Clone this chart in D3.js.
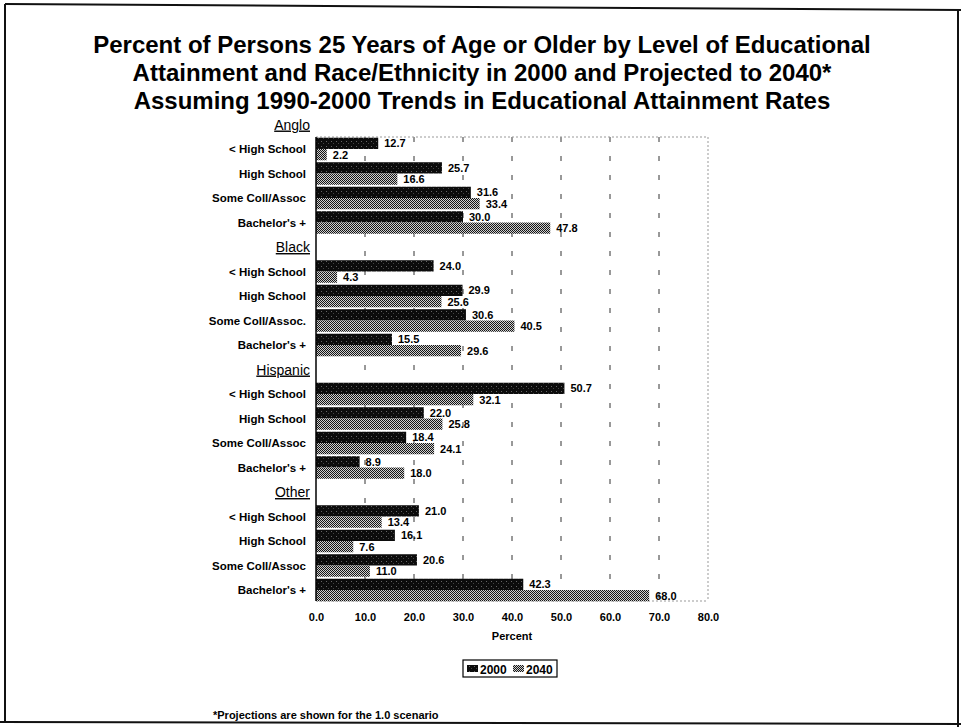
<!DOCTYPE html>
<html><head><meta charset="utf-8">
<script src="https://cdn.jsdelivr.net/npm/d3@7"></script>
<style>
body{margin:0;background:#fff;}
svg{display:block;font-family:"Liberation Sans",Arial,sans-serif;}
</style></head>
<body><svg id="chart" width="961" height="727"></svg>
<script>
const groups = ["Anglo", "Black", "Hispanic", "Other"];
const levels = {
  Anglo: ["< High School", "High School", "Some Coll/Assoc", "Bachelor's +"],
  Black: ["< High School", "High School", "Some Coll/Assoc.", "Bachelor's +"],
  Hispanic: ["< High School", "High School", "Some Coll/Assoc", "Bachelor's +"],
  Other: ["< High School", "High School", "Some Coll/Assoc", "Bachelor's +"]
};
const values2000 = {
  Anglo: [12.7, 25.7, 31.6, 30.0],
  Black: [24.0, 29.9, 30.6, 15.5],
  Hispanic: [50.7, 22.0, 18.4, 8.9],
  Other: [21.0, 16.1, 20.6, 42.3]
};
const values2040 = {
  Anglo: [2.2, 16.6, 33.4, 47.8],
  Black: [4.3, 25.6, 40.5, 29.6],
  Hispanic: [32.1, 25.8, 24.1, 18.0],
  Other: [13.4, 7.6, 11.0, 68.0]
};
const seriesNames = ["2000", "2040"];
const xTicks = [0, 10, 20, 30, 40, 50, 60, 70, 80];
const titleLines = [
  "Percent of Persons 25 Years of Age or Older by Level of Educational",
  "Attainment and Race/Ethnicity in 2000 and Projected to 2040*",
  "Assuming 1990-2000 Trends in Educational Attainment Rates"
];
const xLabel = "Percent";
const footnote = "*Projections are shown for the 1.0 scenario";

const svg = d3.select("#chart");
const defs = svg.append("defs");
// textures
const p1 = defs.append("pattern").attr("id","p2000").attr("width",5).attr("height",5).attr("patternUnits","userSpaceOnUse");
p1.append("rect").attr("width",5).attr("height",5).attr("fill","#0c0c0c");
p1.append("rect").attr("x",1).attr("y",1).attr("width",1).attr("height",1).attr("fill","#666");
p1.append("rect").attr("x",3).attr("y",3).attr("width",1).attr("height",1).attr("fill","#444");
const p2 = defs.append("pattern").attr("id","p2040").attr("width",2).attr("height",2).attr("patternUnits","userSpaceOnUse");
p2.append("rect").attr("width",2).attr("height",2).attr("fill","#cfcfcf");
p2.append("rect").attr("x",0).attr("y",0).attr("width",1).attr("height",1).attr("fill","#151515");
p2.append("rect").attr("x",1).attr("y",1).attr("width",1).attr("height",1).attr("fill","#151515");
const fills = {"2000":"url(#p2000)","2040":"url(#p2040)"};

// frame
svg.append("path").attr("d","M5,4 L961,10").attr("stroke","#111").attr("stroke-width",2);
svg.append("path").attr("d","M5,4 L5,722").attr("stroke","#111").attr("stroke-width",2);
svg.append("path").attr("d","M0,722 L961,724").attr("stroke","#111").attr("stroke-width",2);
svg.append("path").attr("d","M958,10 L958,727").attr("stroke","#111").attr("stroke-width",2);

// title
svg.append("g").selectAll("text").data(titleLines).join("text")
  .attr("x",482).attr("y",(d,i)=>53+i*28)
  .attr("text-anchor","middle").attr("font-weight","bold").attr("font-size",24)
  .text(d=>d);

// rows
const rows = [];
groups.forEach(g=>{
  rows.push({key:g+"|h", group:g, header:true, label:g});
  levels[g].forEach((l,i)=>rows.push({key:g+"|"+i, group:g, header:false, label:l, v2000:values2000[g][i], v2040:values2040[g][i]}));
});

const plotLeft = 316, plotRight = 708, plotTop = 137, plotBottom = 601;
const x = d3.scaleLinear().domain([0,80]).range([plotLeft, plotRight]);
const y = d3.scaleBand().domain(rows.map(r=>r.key)).range([112.25, 602.25]).paddingInner(0.08).paddingOuter(0.04);
const ys = d3.scaleBand().domain(seriesNames).range([0, y.bandwidth()]);

// gridlines
svg.append("g").selectAll("line").data(xTicks.filter(t=>t>0 && t<80)).join("line")
  .attr("x1",d=>x(d)).attr("x2",d=>x(d)).attr("y1",plotTop).attr("y2",plotBottom)
  .attr("stroke","#333").attr("stroke-width",1).attr("stroke-dasharray","5,14");
// plot border (light)
svg.append("line").attr("x1",plotLeft).attr("x2",plotRight).attr("y1",plotTop).attr("y2",plotTop)
  .attr("stroke","#999").attr("stroke-dasharray","2,2");
svg.append("line").attr("x1",plotRight).attr("x2",plotRight).attr("y1",plotTop).attr("y2",plotBottom)
  .attr("stroke","#999").attr("stroke-dasharray","2,2");
svg.append("line").attr("x1",plotLeft).attr("x2",plotRight).attr("y1",plotBottom).attr("y2",plotBottom)
  .attr("stroke","#999").attr("stroke-dasharray","2,2");

// bars
const dataRows = rows.filter(r=>!r.header);
const barG = svg.append("g");
seriesNames.forEach(s=>{
  barG.selectAll(null).data(dataRows).join("rect")
    .attr("x",x(0)).attr("y",d=>y(d.key)+ys(s))
    .attr("width",d=>x(d["v"+s])-x(0)).attr("height",ys.bandwidth())
    .attr("fill",fills[s]);
  barG.selectAll(null).data(dataRows).join("text")
    .attr("x",d=>x(d["v"+s])+6).attr("y",d=>y(d.key)+ys(s)+ys.bandwidth()/2)
    .attr("dy","0.36em").attr("font-weight","bold").attr("font-size",11)
    .text(d=>d["v"+s].toFixed(1));
});

// left axis line
svg.append("line").attr("x1",plotLeft).attr("x2",plotLeft).attr("y1",plotTop).attr("y2",plotBottom)
  .attr("stroke","#000").attr("stroke-width",1.5);

// category labels
svg.append("g").selectAll("text").data(rows).join("text")
  .attr("x",d=>d.header?310:306)
  .attr("y",d=>y(d.key)+y.bandwidth()/2)
  .attr("dy","0.36em").attr("text-anchor","end")
  .attr("font-weight",d=>d.header?"normal":"bold")
  .attr("font-size",d=>d.header?14:11.5)
  .attr("text-decoration",d=>d.header?"underline":null)
  .text(d=>d.label);

// x axis
const xAxis = d3.axisBottom(x).tickValues(xTicks).tickFormat(d3.format(".1f")).tickSize(0).tickPadding(0);
const ax = svg.append("g").attr("transform",`translate(0,${plotBottom})`).call(xAxis);
ax.select(".domain").remove();
ax.selectAll("text").attr("y",20).attr("dy",0).attr("font-weight","bold").attr("font-size",11)
  .attr("font-family","\"Liberation Sans\",Arial,sans-serif").attr("fill","#000");
svg.append("text").attr("x",(plotLeft+plotRight)/2).attr("y",640).attr("text-anchor","middle")
  .attr("font-weight","bold").attr("font-size",11).text(xLabel);

// legend
const lg = svg.append("g").attr("transform","translate(463,660)");
lg.append("rect").attr("width",94).attr("height",17).attr("fill","#fff").attr("stroke","#000").attr("stroke-width",1.2);
seriesNames.forEach((s,i)=>{
  const gx = 4 + i*46;
  lg.append("rect").attr("x",gx).attr("y",5).attr("width",11).attr("height",7).attr("fill",fills[s]);
  lg.append("text").attr("x",gx+13).attr("y",13.5).attr("font-weight","bold").attr("font-size",12).text(s);
});

// footnote
svg.append("text").attr("x",213).attr("y",719).attr("font-size",11).attr("font-weight","bold").text(footnote);
</script></body></html>
